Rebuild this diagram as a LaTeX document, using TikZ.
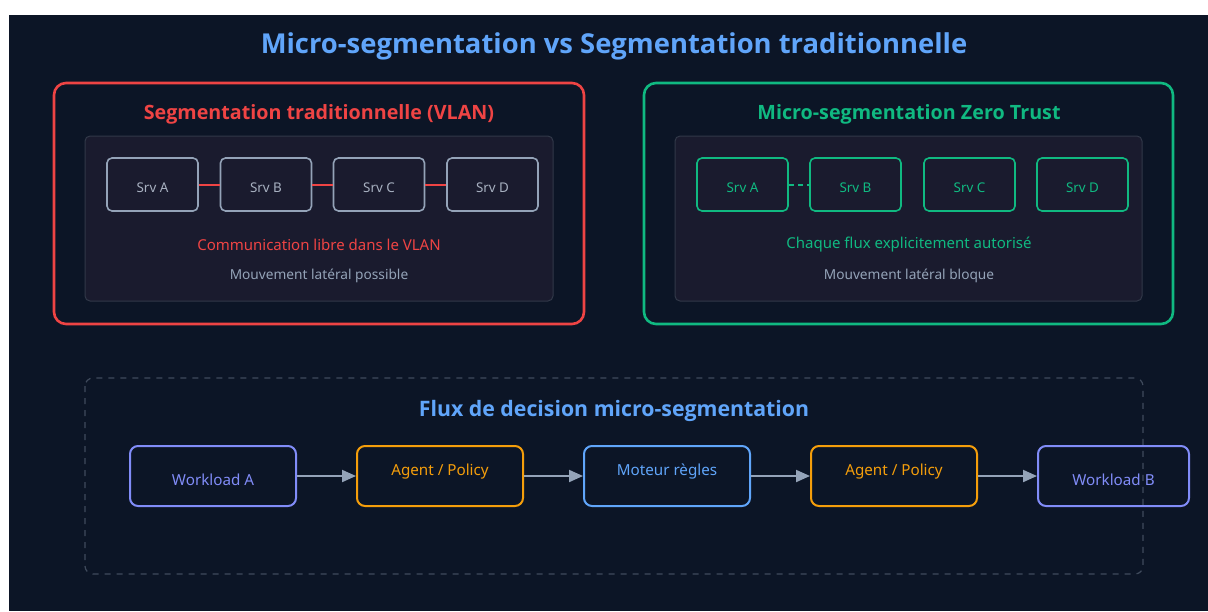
\documentclass[tikz,border=0pt]{standalone}
\usepackage{fontspec}
\setmainfont{Noto Sans}
\newfontfamily\headfont{Open Sans}
\usetikzlibrary{arrows.meta}

\definecolor{bg}{HTML}{0C1526}
\definecolor{panel}{HTML}{1A1B2E}
\definecolor{panelline}{HTML}{313848}
\definecolor{redc}{HTML}{EF4444}
\definecolor{greenc}{HTML}{10B981}
\definecolor{bluec}{HTML}{60A5FA}
\definecolor{purplec}{HTML}{818CF8}
\definecolor{orangec}{HTML}{F59E0B}
\definecolor{grayc}{HTML}{94A3B8}
\definecolor{srvtext}{HTML}{A7B0C0}
\definecolor{dashc}{HTML}{3F4A5C}

\begin{document}
\begin{tikzpicture}[x=1pt,y=-1pt,
  fs/.style={font=\fontsize{#1}{#1}\selectfont},
  groupbox/.style={line width=2.6pt, rounded corners=12pt},
  innerpanel/.style={draw=panelline, fill=panel, line width=1pt, rounded corners=5pt},
  srvbox/.style={draw=#1, fill=panel, line width=1.6pt, rounded corners=5pt,
    minimum width=91pt, minimum height=53pt, inner sep=0pt},
  srvlabel/.style={fs=13.4, inner sep=0pt},
  flowbox/.style={draw=#1, fill=bg, line width=2pt, rounded corners=8pt,
    minimum height=60pt, inner sep=0pt},
  flowlabel/.style={fs=15.2, inner sep=0pt},
  flowarrow/.style={draw=grayc, line width=2pt,
    -{Triangle[length=14pt,width=12pt]}},
  secttitle/.style={font=\headfont\bfseries\fontsize{19.7}{19.7}\selectfont, inner sep=0pt},
]
\useasboundingbox (0,0) rectangle (1208,611);
\fill[white] (0,0) rectangle (1208,611);
\fill[bg] (9,15) rectangle (1208,611);

% main title
\node[text=bluec, inner sep=0pt, font=\headfont\bfseries\fontsize{27.4}{27.4}\selectfont] (title) at (614,46)
  {Micro-segmentation vs Segmentation traditionnelle};

% ---- traditional segmentation ----
\draw[groupbox, draw=redc] (54,83) rectangle (584,324);
\node[secttitle, text=redc] (ltitle) at (319,114) {Segmentation traditionnelle (VLAN)};
\draw[innerpanel] (85,136) rectangle (553,301);
\node[srvbox=grayc] (la) at (152.5,184.5) {};
\node[srvbox=grayc] (lb) at (266,184.5) {};
\node[srvbox=grayc] (lc) at (379,184.5) {};
\node[srvbox=grayc] (ld) at (492.5,184.5) {};
\node[srvlabel, text=srvtext] (lat) at (152.5,188) {Srv A};
\node[srvlabel, text=srvtext] (lbt) at (266,188) {Srv B};
\node[srvlabel, text=srvtext] (lct) at (379,188) {Srv C};
\node[srvlabel, text=srvtext] (ldt) at (492.5,188) {Srv D};
\draw[redc, line width=2pt] (la.east) -- (lb.west);
\draw[redc, line width=2pt] (lb.east) -- (lc.west);
\draw[redc, line width=2pt] (lc.east) -- (ld.west);
\node[fs=15, text=redc, inner sep=0pt] (lcomm) at (319,244.5) {Communication libre dans le VLAN};
\node[fs=13.7, text=grayc, inner sep=0pt] (lmove) at (319,276) {Mouvement latéral possible};

% ---- zero trust micro-segmentation ----
\draw[groupbox, draw=greenc] (644,83) rectangle (1173,324);
\node[secttitle, text=greenc] (rtitle) at (909,114) {Micro-segmentation Zero Trust};
\draw[innerpanel] (675,136) rectangle (1142,301);
\node[srvbox=greenc] (ra) at (742.5,184.5) {};
\node[srvbox=greenc] (rb) at (855.5,184.5) {};
\node[srvbox=greenc] (rc) at (969.5,184.5) {};
\node[srvbox=greenc] (rd) at (1082.5,184.5) {};
\node[srvlabel, text=greenc] (rat) at (742.5,188) {Srv A};
\node[srvlabel, text=greenc] (rbt) at (855.5,188) {Srv B};
\node[srvlabel, text=greenc] (rct) at (969.5,188) {Srv C};
\node[srvlabel, text=greenc] (rdt) at (1082.5,188) {Srv D};
\draw[greenc, line width=2pt, dash pattern=on 5pt off 4pt] (ra.east) -- (rb.west);
\node[fs=15, text=greenc, inner sep=0pt] (rcomm) at (909,244.5) {Chaque flux explicitement autorisé};
\node[fs=13.7, text=grayc, inner sep=0pt] (rmove) at (909,276) {Mouvement latéral bloque};

% ---- decision flow ----
\node[text=bluec, inner sep=0pt, font=\headfont\bfseries\fontsize{21.3}{21.3}\selectfont] (ftitle) at (614,411) {Flux de decision micro-segmentation};
\node[flowbox=purplec, minimum width=166pt] (wa) at (213,476) {};
\node[flowbox=orangec, minimum width=166pt] (ag1) at (440,476) {};
\node[flowbox=bluec, minimum width=166pt] (mo) at (667,476) {};
\node[flowbox=orangec, minimum width=166pt] (ag2) at (894,476) {};
\node[flowbox=purplec, minimum width=151pt] (wb) at (1113.5,476) {};
\node[flowlabel, text=purplec] (wat) at (213,479.5) {Workload A};
\node[flowlabel, text=orangec] (ag1t) at (440,471.5) {Agent / Policy};
\node[flowlabel, text=bluec] (mot) at (667,471.5) {Moteur règles};
\node[flowlabel, text=orangec] (ag2t) at (894,471.5) {Agent / Policy};
\node[flowlabel, text=purplec] (wbt) at (1113.5,479.5) {Workload B};
\draw[flowarrow] (wa) -- (ag1);
\draw[flowarrow] (ag1) -- (mo);
\draw[flowarrow] (mo) -- (ag2);
\draw[flowarrow] (ag2) -- (wb);

% dashed frame around the flow
\draw[dashc, line width=1.2pt, dash pattern=on 6pt off 6pt, rounded corners=8pt]
  (85,378) rectangle (1143,574);
\end{tikzpicture}
\end{document}
